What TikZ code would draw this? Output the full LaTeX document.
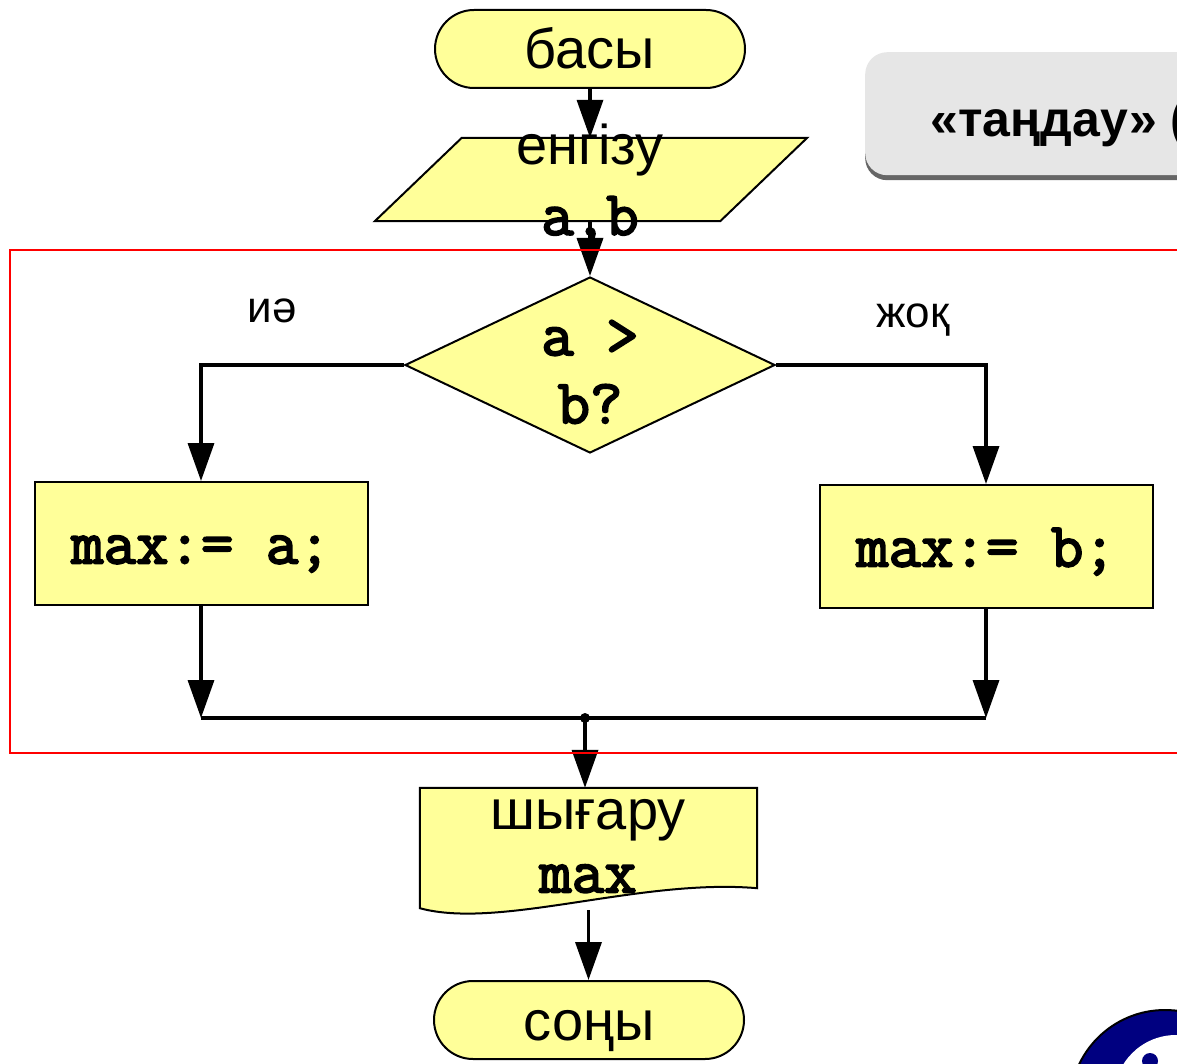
\documentclass[tikz,border=0pt]{standalone}
\usepackage{fontspec}
\setmainfont{Liberation Sans}
\newfontfamily\codefnt{Latin Modern Mono}[FakeBold=3]
\usetikzlibrary{arrows.meta,shapes.geometric,shapes.misc,shadows}
\definecolor{blockyellow}{HTML}{FFFF99}
\definecolor{notegray}{HTML}{E6E6E6}
\definecolor{badgeblue}{HTML}{000080}
\tikzset{
	term/.style={rounded rectangle, draw, line width=2pt, fill=blockyellow,
		minimum width=310pt, minimum height=78pt, inner sep=0pt,
		text height=46pt, text depth=6pt, font=\fontsize{56}{66}\selectfont},
	proc/.style={rectangle, draw, line width=2pt, fill=blockyellow,
		minimum width=333pt, minimum height=123pt, inner sep=0pt,
		text height=40pt, text depth=0pt, font=\codefnt\fontsize{63}{66}\selectfont},
	decision/.style={diamond, draw, line width=2pt, fill=blockyellow,
		minimum width=370pt, minimum height=176pt, inner sep=0pt},
	iobox/.style={rectangle, minimum width=258pt, minimum height=83pt, inner sep=0pt},
	docbox/.style={rectangle, minimum width=337pt, minimum height=100pt, inner sep=0pt},
	shapeline/.style={draw, line width=2pt, fill=blockyellow, line join=miter},
	txt/.style={inner sep=0pt, align=center},
	lbl/.style={inner sep=0pt, font=\fontsize{44}{50}\selectfont},
	flow/.style={line width=3.5pt, -{Triangle[length=38pt,width=26pt]}},
	joinline/.style={line width=4pt},
	notebox/.style={rectangle, rounded corners=22pt, fill=notegray,
		minimum width=360pt, minimum height=123pt,
		drop shadow={shadow xshift=0pt, shadow yshift=-5pt, opacity=0.8, fill=black!75}},
	notetext/.style={inner sep=0pt, font=\bfseries\fontsize{50}{54}\selectfont}
}
\begin{document}
\begin{tikzpicture}[x=1pt,y=-1pt]
	\useasboundingbox (0,0) rectangle (1177,1064);
	% note in the corner
	\node[notebox, anchor=north west] (note) at (865,52) {};
	\node[notetext, anchor=base west] (notelabel) at (930,137) {«таңдау» (};
	% badge
	\fill[badgeblue, draw=black, line width=2pt] (1165,1105) circle (95pt);
	\fill[white] (1176,1097) circle (62pt);
	\fill[badgeblue] (1150,1061) circle (8pt);
	% blocks
	\node[term] (basy) at (590,49) {басы};
	\node[iobox] (vvod) at (591,179.5) {};
	\draw[shapeline] ([xshift=-87pt]vvod.south west) -- (vvod.north west)
		-- ([xshift=87pt]vvod.north east) -- (vvod.south east) -- cycle;
	\node[txt, font=\fontsize{56}{70}\selectfont] (vvodtext) at (590,184)
		{енгізу\\{\codefnt\fontsize{63}{70}\selectfont a,b}};
	\node[decision] (cond) at (590,365) {};
	\node[txt, font=\codefnt\fontsize{63}{68}\selectfont] (condtext) at (590,372) {a >\\b?};
	\node[proc] (maxa) at (201,543.5) {max:= a;};
	\node[proc] (maxb) at (986,546.5) {max:= b;};
	\node[lbl, anchor=base] (yes) at (272,323) {иә};
	\node[lbl, anchor=base] (no) at (913,327) {жоқ};
	\coordinate (merge) at (585,718);
	\node[docbox] (vyvod) at (588.5,838) {};
	\draw[shapeline] (vyvod.north west) -- (vyvod.north east) -- (vyvod.south east)
		.. controls (640,878) and (500,930) .. ([yshift=-20pt]vyvod.south west) -- cycle;
	\node[txt, font=\fontsize{56}{63}\selectfont] (vyvodtext) at (588,846)
		{шығару\\{\codefnt\fontsize{63}{63}\selectfont max}};
	\node[term] (sony) at (589,1020) {соңы};
	% connectors
	\draw[flow] (basy.south) -- (basy.south |- vvod.north);
	\draw[flow] (cond.north |- vvod.south) -- (cond.north);
	\draw[flow] (cond.west) -| (maxa.north);
	\draw[flow] (cond.east) -| (maxb.north);
	\draw[flow] (maxa.south) -- (maxa.south |- merge);
	\draw[flow] (maxb.south) -- (maxb.south |- merge);
	\draw[joinline] (maxa.south |- merge) -- (maxb.south |- merge);
	\fill (merge) circle (5pt);
	\draw[flow] (merge) -- (merge |- vyvod.north);
	\coordinate (docout) at ([yshift=-22pt]vyvod.south);
	\draw[flow] (docout) -- (docout |- sony.north);
	% selection frame
	\draw[red, line width=2pt] (10,250) rectangle (1200,753);
\end{tikzpicture}
\end{document}
